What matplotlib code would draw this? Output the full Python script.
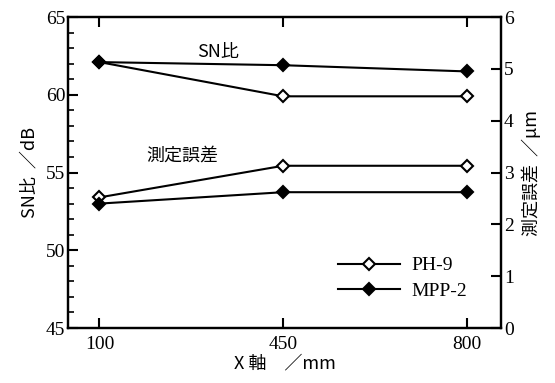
import matplotlib
matplotlib.use('Agg')
import matplotlib.pyplot as plt
from matplotlib.ticker import MultipleLocator

x_pos = [100, 450, 800]
x_labels = ['100', '450', '800']

# SN比 (dB), left axis
sn_ph9 = [62.1, 59.9, 59.9]
sn_mpp2 = [62.1, 61.9, 61.5]

# 測定誤差 (µm), right axis
err_ph9 = [2.52, 3.13, 3.13]
err_mpp2 = [2.40, 2.62, 2.62]

serif = ['Liberation Serif', 'DejaVu Serif']
jp = ['Noto Sans CJK JP', 'DejaVu Sans']

fig = plt.figure(figsize=(5.55, 3.83), dpi=100)
ax = fig.add_axes([0.1225, 0.1436, 0.7802, 0.812])
ax2 = ax.twinx()

lw = 1.5
open_kw = dict(color='black', lw=lw, marker='D', ms=6.5, mfc='white', mec='black', mew=1.5)
fill_kw = dict(color='black', lw=lw, marker='D', ms=6.5, mfc='black', mec='black', mew=1.5)

ax.plot(x_pos, sn_ph9, label='PH-9', **open_kw)
ax.plot(x_pos, sn_mpp2, label='MPP-2', **fill_kw)
ax2.plot(x_pos, err_ph9, **open_kw)
ax2.plot(x_pos, err_mpp2, **fill_kw)

ax.set_xlim(40, 865)
ax.set_ylim(45, 65)
ax2.set_ylim(0, 6)

ax.set_xticks(x_pos)
ax.set_xticklabels(x_labels, family=serif, fontsize=14)
ax.yaxis.set_major_locator(MultipleLocator(5))
ax.yaxis.set_minor_locator(MultipleLocator(1))
for lab in ax.get_yticklabels():
    lab.set_family(serif)
    lab.set_fontsize(14)
ax2.yaxis.set_major_locator(MultipleLocator(1))
for lab in ax2.get_yticklabels():
    lab.set_family(serif)
    lab.set_fontsize(14)

ax.tick_params(axis='x', direction='in', top=True, length=7, width=1.5, pad=6)
ax.tick_params(axis='y', which='major', direction='in', length=7, width=1.5, pad=2)
ax.tick_params(axis='y', which='minor', direction='in', length=4, width=1.2)
ax2.tick_params(axis='y', direction='in', length=7, width=1.5, pad=2)

for a in (ax, ax2):
    for s in a.spines.values():
        s.set_linewidth(1.6)

ax.set_xlabel('X 軸　／mm', family=jp, fontsize=13, labelpad=1)
ax.set_ylabel('SN比  ／dB', family=jp, fontsize=13, labelpad=5)
ax2.set_ylabel('測定誤差  ／μm', family=jp, fontsize=13, rotation=90, labelpad=6)

ax.text(326, 62.75, 'SN比', family=jp, fontsize=13, ha='center', va='center')
ax.text(257, 56.1, '測定誤差', family=jp, fontsize=13, ha='center', va='center')

leg = ax.legend(loc='upper left', bbox_to_anchor=(0.6, 0.26), frameon=False,
                prop={'family': serif, 'size': 14}, handlelength=3.2,
                labelspacing=0.4, handletextpad=0.6, borderpad=0)

fig.savefig('out.png', dpi=100)
